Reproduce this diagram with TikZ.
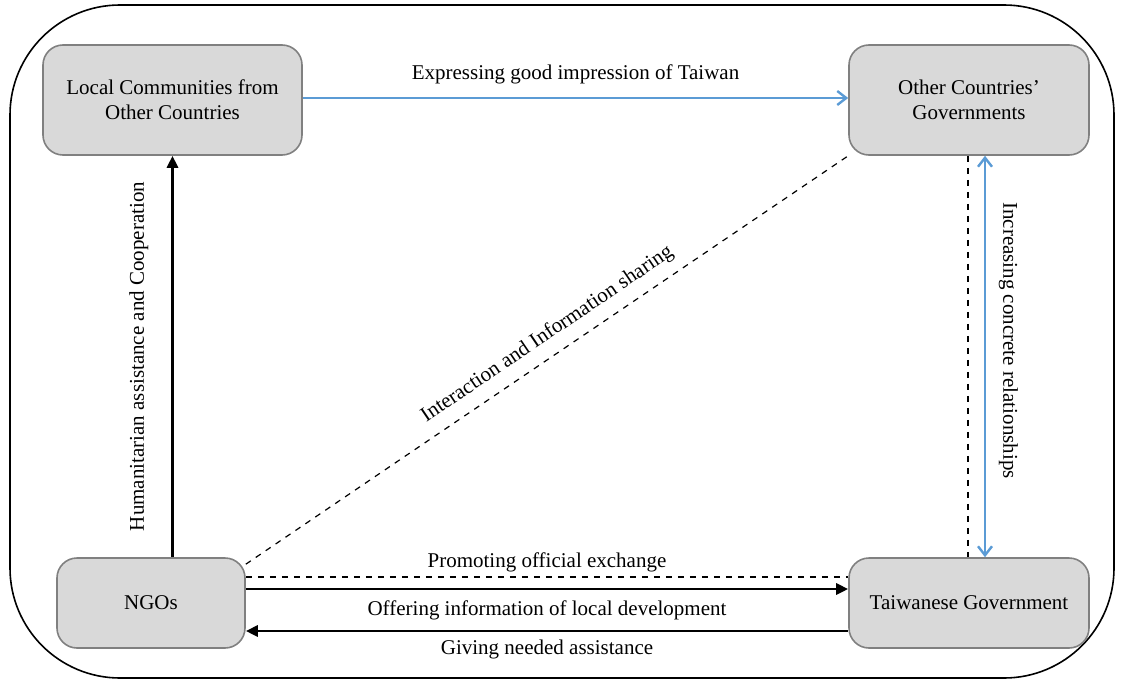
\documentclass[tikz,border=0pt]{standalone}
\usepackage{fontspec}
\setmainfont{Liberation Serif}
\usepackage{xcolor}
\usetikzlibrary{arrows.meta, positioning, calc}
\definecolor{boxfill}{RGB}{217, 217, 217}
\definecolor{boxline}{RGB}{128, 128, 128}
\definecolor{linkblue}{RGB}{91, 155, 213}

\tikzset{
    actor/.style={draw=boxline, fill=boxfill, rounded corners=10pt, thick, align=center,
        font=\fontsize{10.5}{12.6}\selectfont, inner sep=0pt},
    lbl/.style={font=\fontsize{10.5}{12.6}\selectfont},
    flow/.style={-{Triangle[length=6pt, width=5.5pt]}, line width=1.4pt},
    bluelink/.style={draw=linkblue, line width=1.2pt},
    barb/.tip={Straight Barb[length=4.5pt, width=7pt]},
    dashlink/.style={dashed, line width=0.6pt}
}

\begin{document}
\begin{tikzpicture}[x=0.5pt, y=0.5pt]
    \useasboundingbox (0,0) rectangle (1124,682);
    % Frame
    \draw[line width=0.8pt, rounded corners=55pt] (10,4) rectangle (1114,677);

    % Boxes
    \node[actor, minimum width=129.5pt, minimum height=55pt] (lc) at (172.5,582) {Local Communities from\\Other Countries};
    \node[actor, minimum width=120pt, minimum height=55pt] (ocg) at (969,582) {Other Countries'\\Governments};
    \node[actor, minimum width=94pt, minimum height=45pt] (ngo) at (151,79) {NGOs};
    \node[actor, minimum width=120pt, minimum height=45pt] (tg) at (969,79) {Taiwanese Government};

    % Top
    \draw[bluelink, -barb] ($(lc.east)+(0,2)$) -- ($(ocg.west)+(0,2)$)
        node[lbl, midway, above=3pt] {Expressing good impression of Taiwan};

    % Left
    \draw[flow] (ngo.north -| lc.south) -- (lc.south)
        node[lbl, midway, sloped, above=8pt] {Humanitarian assistance and Cooperation};

    % Diagonal
    \draw[dashlink] ($(ngo.north east)+(0,-7)$) -- (ocg.south west)
        node[lbl, pos=0.52, sloped, above=2pt] {Interaction and Information sharing};

    % Right
    \draw[dashlink] ($(ocg.south)+(-1,0)$) -- ($(tg.north)+(-1,0)$);
    \draw[bluelink, barb-barb] ($(ocg.south)+(16,0)$) -- ($(tg.north)+(16,0)$)
        node[lbl, pos=0.46, sloped, above=3pt] {Increasing concrete relationships};

    % Bottom
    \draw[dashlink] ($(ngo.east)+(0,26)$) -- ($(tg.west)+(0,26)$)
        node[lbl, midway, above=-1pt] {Promoting official exchange};
    \draw[flow] ($(ngo.east)+(0,14)$) -- ($(tg.west)+(0,14)$)
        node[lbl, midway, below=2pt] {Offering information of local development};
    \draw[flow] ($(tg.west)+(0,-28)$) -- ($(ngo.east)+(0,-28)$)
        node[lbl, midway, below=0.5pt] {Giving needed assistance};
\end{tikzpicture}
\end{document}
